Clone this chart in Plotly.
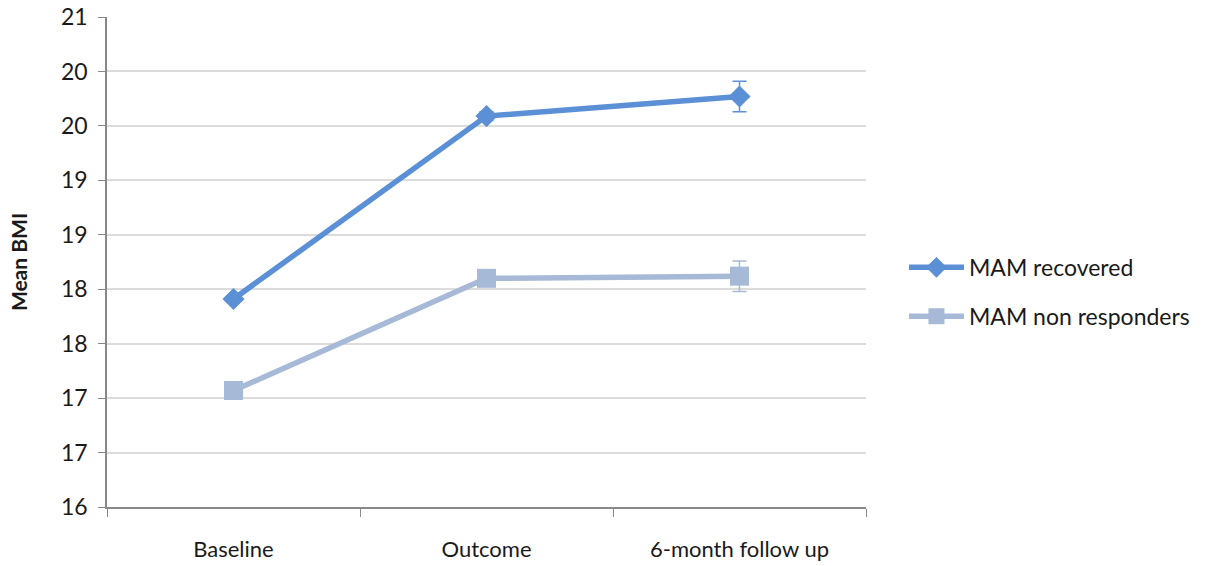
import plotly.graph_objects as go

# Time points and mean BMI per group
timepoints = ["Baseline", "Outcome", "6-month follow up"]
recovered_bmi = [17.91, 19.59, 19.77]
recovered_err = [0.02, 0.04, 0.14]
nonresp_bmi = [17.07, 18.10, 18.12]
nonresp_err = [0.02, 0.03, 0.14]

# y ticks at half units, labelled with whole numbers
ytick_vals = [16, 16.5, 17, 17.5, 18, 18.5, 19, 19.5, 20, 20.5]
ytick_text = ["16", "17", "17", "18", "18", "19", "19", "20", "20", "21"]

blue = "#5b8fd6"
grey_blue = "#a6b9d6"

fig = go.Figure()
fig.add_trace(go.Scatter(
    x=timepoints, y=recovered_bmi, name="MAM recovered",
    mode="lines+markers", legendgroup="rec",
    line=dict(color=blue, width=5.5),
    marker=dict(symbol="diamond", size=17, color=blue),
    error_y=dict(type="data", array=recovered_err, color=blue, thickness=1.5, width=7),
))
fig.add_trace(go.Scatter(
    x=timepoints, y=nonresp_bmi, name="MAM non responders",
    mode="lines+markers", legendgroup="non",
    line=dict(color=grey_blue, width=5.5),
    marker=dict(symbol="square", size=19, color=grey_blue),
    error_y=dict(type="data", array=nonresp_err, color=grey_blue, thickness=1.5, width=7),
))

fig.update_layout(
    width=1219, height=566,
    margin=dict(l=107, r=353, t=17, b=59, autoexpand=False),
    paper_bgcolor="white", plot_bgcolor="white",
    font=dict(family="Lato, Open Sans, sans-serif", size=22, color="#1a1a1a"),
    legend=dict(x=1.05, y=0.439, xanchor="left", yanchor="middle",
                traceorder="grouped", font=dict(size=23), tracegroupgap=16,
                itemwidth=55),
    xaxis=dict(type="category", tickson="boundaries", ticks="outside", ticklen=8,
               tickcolor="#888", showline=True, linecolor="#888", linewidth=1.5,
               showgrid=False, tickfont=dict(size=22), range=[-0.5, 2.5],
               ticklabelstandoff=22, automargin=False),
    yaxis=dict(range=[16, 20.5], tickvals=ytick_vals, ticktext=ytick_text,
               ticks="outside", ticklen=7, tickcolor="#888",
               showline=True, linecolor="#888", linewidth=1.5,
               showgrid=True, gridcolor="#dcdcdc", gridwidth=1.5,
               tickfont=dict(size=23), ticklabelstandoff=6,
               title=dict(text="<b>Mean BMI</b>", font=dict(size=21), standoff=28),
               zeroline=False, automargin=False),
)

fig.write_html("out.html")
